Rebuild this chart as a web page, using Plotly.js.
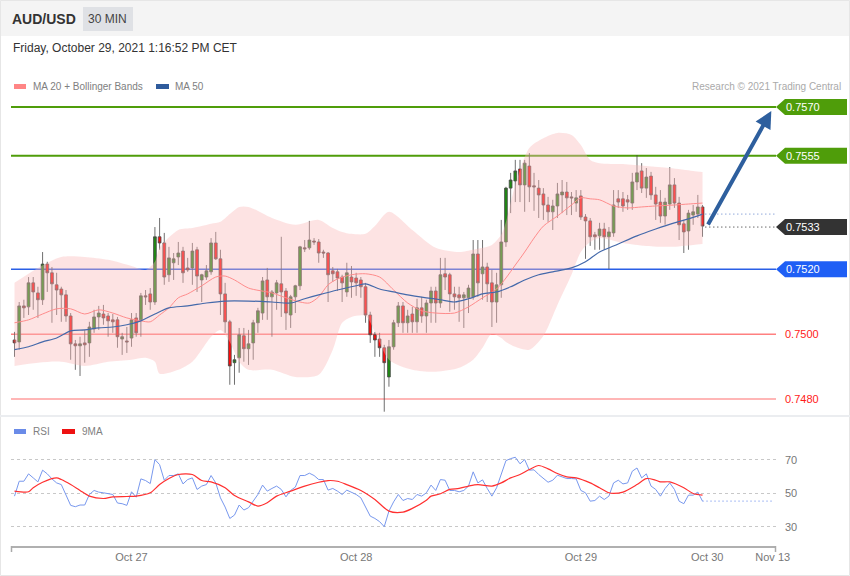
<!DOCTYPE html>
<html><head><meta charset="utf-8">
<script src="https://cdn.plot.ly/plotly-3.0.1.min.js"></script>
<style>html,body{margin:0;padding:0;background:#fff;}#chart{width:850px;height:576px;}</style>
</head><body><div id="chart"></div>
<script>
// ---------- DATA (30-min candles, AUD/USD) ----------
const open = [0.74982,0.74976,0.75087,0.75084,0.75158,0.75127,0.75106,0.75216,0.75189,0.75152,
0.75139,0.75121,0.75056,0.74970,0.74964,0.74973,0.74973,0.75016,0.75053,0.75062,
0.75056,0.75044,0.75044,0.74985,0.74979,0.74988,0.75050,0.75044,0.75118,0.75124,
0.75099,0.75300,0.75281,0.75183,0.75220,0.75238,0.75256,0.75204,0.75204,0.75260,
0.75167,0.75176,0.75192,0.75281,0.75232,0.75124,0.75038,0.74912,0.74927,0.74995,
0.74955,0.74973,0.75035,0.75065,0.75167,0.75115,0.75127,0.75155,0.75133,0.75059,
0.75115,0.75149,0.75266,0.75266,0.75287,0.75284,0.75253,0.75250,0.75195,0.75192,
0.75176,0.75130,0.75176,0.75173,0.75167,0.75146,0.75059,0.74998,0.74985,0.74958,
0.74868,0.74961,0.75035,0.75087,0.75035,0.75062,0.75038,0.75081,0.75056,0.75096,
0.75133,0.75096,0.75186,0.75183,0.75124,0.75121,0.75112,0.75112,0.75115,0.75247,
0.75186,0.75207,0.75158,0.75099,0.75152,0.75284,0.75450,0.75472,0.75509,0.75460,
0.75518,0.75457,0.75450,0.75432,0.75398,0.75377,0.75395,0.75429,0.75438,0.75423,
0.75404,0.75426,0.75361,0.75349,0.75306,0.75303,0.75324,0.75300,0.75312,0.75417,
0.75417,0.75414,0.75404,0.75469,0.75503,0.75450,0.75487,0.75429,0.75407,0.75364,
0.75401,0.75460,0.75404,0.75340,0.75318,0.75367,0.75370,0.75392];
const high = [0.75007,0.75099,0.75106,0.75176,0.75176,0.75146,0.75253,0.75223,0.75207,0.75189,
0.75146,0.75136,0.75065,0.74982,0.74992,0.75013,0.75038,0.75075,0.75087,0.75090,
0.75065,0.75062,0.75053,0.75004,0.75022,0.75065,0.75065,0.75127,0.75136,0.75142,
0.75330,0.75358,0.75312,0.75269,0.75250,0.75284,0.75269,0.75235,0.75281,0.75269,
0.75186,0.75213,0.75296,0.75315,0.75260,0.75158,0.75044,0.74936,0.75019,0.75019,
0.75013,0.75044,0.75081,0.75176,0.75204,0.75136,0.75167,0.75300,0.75142,0.75121,
0.75152,0.75272,0.75290,0.75349,0.75296,0.75293,0.75260,0.75253,0.75207,0.75201,
0.75183,0.75220,0.75210,0.75189,0.75176,0.75158,0.75069,0.75007,0.75004,0.74967,
0.74982,0.75044,0.75099,0.75099,0.75075,0.75084,0.75109,0.75115,0.75106,0.75146,
0.75146,0.75235,0.75235,0.75189,0.75146,0.75146,0.75130,0.75152,0.75290,0.75290,
0.75290,0.75220,0.75198,0.75189,0.75352,0.75454,0.75497,0.75537,0.75537,0.75537,
0.75558,0.75497,0.75475,0.75450,0.75423,0.75414,0.75466,0.75475,0.75469,0.75438,
0.75444,0.75444,0.75370,0.75358,0.75315,0.75343,0.75343,0.75330,0.75444,0.75444,
0.75438,0.75429,0.75497,0.75552,0.75527,0.75512,0.75500,0.75454,0.75444,0.75420,
0.75515,0.75481,0.75423,0.75352,0.75383,0.75398,0.75429,0.75398];
const low = [0.74930,0.74952,0.75050,0.75059,0.75075,0.75050,0.75090,0.75130,0.75035,0.75059,
0.75038,0.75038,0.74921,0.74890,0.74871,0.74912,0.74930,0.75004,0.75013,0.75029,
0.74992,0.75004,0.74958,0.74936,0.74942,0.74961,0.74992,0.74992,0.75090,0.75075,
0.75090,0.75260,0.75152,0.75161,0.75167,0.75213,0.75158,0.75192,0.75152,0.75130,
0.75099,0.75167,0.75183,0.75229,0.75059,0.75004,0.74844,0.74844,0.74881,0.74915,
0.74905,0.74921,0.75004,0.75044,0.75044,0.74992,0.75075,0.75053,0.75013,0.75019,
0.75065,0.75136,0.75253,0.75260,0.75275,0.75220,0.75235,0.75099,0.75161,0.75133,
0.75099,0.75115,0.75112,0.75118,0.75112,0.75035,0.74973,0.74930,0.74930,0.74761,
0.74838,0.74952,0.75022,0.75004,0.75004,0.75004,0.75004,0.75035,0.75004,0.75035,
0.75035,0.75081,0.75136,0.75069,0.75075,0.75038,0.75019,0.75065,0.75106,0.75115,
0.75106,0.75099,0.75022,0.75035,0.75112,0.75269,0.75373,0.75407,0.75407,0.75377,
0.75407,0.75380,0.75358,0.75352,0.75346,0.75321,0.75358,0.75373,0.75367,0.75367,
0.75377,0.75352,0.75232,0.75272,0.75260,0.75260,0.75260,0.75201,0.75300,0.75389,
0.75377,0.75383,0.75383,0.75444,0.75435,0.75420,0.75414,0.75352,0.75343,0.75337,
0.75383,0.75389,0.75290,0.75250,0.75260,0.75337,0.75358,0.75300];
const close = [0.74973,0.75087,0.75081,0.75158,0.75130,0.75106,0.75216,0.75189,0.75155,0.75136,
0.75121,0.75056,0.74970,0.74964,0.74970,0.74967,0.75022,0.75053,0.75065,0.75050,
0.75041,0.75038,0.74992,0.74992,0.74976,0.75044,0.75004,0.75118,0.75115,0.75099,
0.75300,0.75281,0.75176,0.75235,0.75232,0.75250,0.75189,0.75198,0.75256,0.75179,
0.75183,0.75195,0.75281,0.75232,0.75124,0.75038,0.74902,0.74921,0.74998,0.74955,
0.74970,0.75035,0.75072,0.75164,0.75115,0.75130,0.75158,0.75130,0.75065,0.75115,
0.75149,0.75269,0.75263,0.75290,0.75284,0.75250,0.75250,0.75183,0.75186,0.75173,
0.75158,0.75189,0.75161,0.75158,0.75146,0.75059,0.74998,0.74982,0.74958,0.74912,
0.74961,0.75035,0.75087,0.75035,0.75056,0.75038,0.75081,0.75056,0.75096,0.75133,
0.75096,0.75183,0.75176,0.75124,0.75115,0.75112,0.75121,0.75142,0.75247,0.75158,
0.75207,0.75155,0.75099,0.75152,0.75284,0.75450,0.75475,0.75503,0.75460,0.75527,
0.75454,0.75454,0.75429,0.75398,0.75377,0.75395,0.75432,0.75438,0.75420,0.75420,
0.75420,0.75361,0.75349,0.75300,0.75300,0.75324,0.75300,0.75315,0.75398,0.75407,
0.75395,0.75407,0.75469,0.75497,0.75450,0.75484,0.75429,0.75401,0.75364,0.75407,
0.75460,0.75404,0.75337,0.75315,0.75373,0.75377,0.75392,0.75333];

// Moving averages (sampled at candle indices)
const ma20Idx = [0,3,6,9,12,15,18,21,24,27,29,31,33,35,37,40,43,45,47,50,55,58,61,63,65,67,69,72,75,78,81,84,87,90,94,97,100,103,105,107,109,111,113,116,119,121,123,125,128,131,134,137,141,144,147];
const ma20Val = [0.75035,0.75044,0.75062,0.75078,0.75078,0.75062,0.75075,0.75065,0.75050,0.75041,0.75038,0.75059,0.75081,0.75112,0.75124,0.75149,0.75176,0.75179,0.75167,0.75142,0.75127,0.75112,0.75099,0.75096,0.75115,0.75152,0.75170,0.75183,0.75186,0.75176,0.75136,0.75096,0.75072,0.75065,0.75065,0.75084,0.75112,0.75139,0.75173,0.75213,0.75253,0.75296,0.75333,0.75364,0.75398,0.75420,0.75417,0.75414,0.75395,0.75389,0.75392,0.75395,0.75398,0.75401,0.75404];
const ma50Idx = [0,3,6,9,12,15,18,21,24,27,30,33,37,41,45,50,55,59,62,65,69,73,75,78,81,84,88,91,94,97,100,103,106,109,112,115,119,122,125,129,133,137,141,144,147];
const ma50Val = [0.74952,0.74961,0.74976,0.74988,0.75010,0.75013,0.75019,0.75022,0.75029,0.75041,0.75062,0.75081,0.75087,0.75096,0.75102,0.75102,0.75099,0.75096,0.75109,0.75121,0.75136,0.75149,0.75155,0.75139,0.75130,0.75121,0.75112,0.75106,0.75099,0.75109,0.75124,0.75130,0.75146,0.75167,0.75183,0.75192,0.75204,0.75223,0.75253,0.75278,0.75303,0.75324,0.75343,0.75355,0.75370];
// Bollinger bands
const bbIdx = [0,5,10,15,20,25,28,30,31,35,38,40,42,44,46,48,50,55,60,65,68,70,72,75,77,80,85,90,95,98,100,102,104,105,107,110,113,116,119,121,123,125,130,135,140,145,147];
const bbUpper = [0.75158,0.75204,0.75238,0.75238,0.75229,0.75210,0.75198,0.75223,0.75266,0.75321,0.75327,0.75333,0.75340,0.75346,0.75370,0.75392,0.75392,0.75358,0.75337,0.75352,0.75327,0.75315,0.75309,0.75309,0.75333,0.75377,0.75321,0.75266,0.75253,0.75260,0.75266,0.75275,0.75306,0.75346,0.75460,0.75574,0.75604,0.75620,0.75614,0.75583,0.75537,0.75527,0.75524,0.75518,0.75512,0.75503,0.75500];
const bbLower = [0.74902,0.74912,0.74915,0.74902,0.74915,0.74921,0.74927,0.74915,0.74878,0.74890,0.74915,0.74952,0.74992,0.75013,0.74976,0.74915,0.74890,0.74890,0.74868,0.74875,0.74952,0.75035,0.75053,0.75056,0.75007,0.74921,0.74890,0.74884,0.74896,0.74921,0.74958,0.75001,0.74988,0.74976,0.74961,0.74952,0.74995,0.75090,0.75183,0.75253,0.75284,0.75296,0.75281,0.75272,0.75269,0.75275,0.75278];

// RSI (one value per candle) and its 9-period MA
const rsiVal = [48.4,57.3,57.3,61.7,59.3,56.9,63.9,61.7,58.7,56.3,
55.3,49.4,42.9,42.1,43.1,43.1,49.4,51.8,50.8,50.4,
50.0,49.4,44.3,43.9,42.9,51.0,47.8,58.7,57.7,55.9,
70.2,67.2,57.9,60.7,60.7,61.7,55.7,58.3,59.3,52.4,
54.4,55.3,60.7,56.3,47.4,41.9,35.1,37.1,43.1,40.1,
41.5,45.8,49.4,55.0,51.4,53.0,54.4,52.4,48.0,51.8,
53.8,60.7,60.7,62.1,60.7,58.3,58.3,52.0,53.0,51.4,
49.4,52.0,50.8,49.4,47.4,41.5,36.5,35.1,33.2,30.2,
39.5,45.0,49.4,45.8,47.0,46.4,49.4,48.4,50.4,
55.0,51.8,58.3,57.9,51.8,51.8,51.0,51.8,54.4,62.9,
56.3,58.1,53.0,48.4,53.4,61.3,69.6,70.8,71.6,67.7,
70.2,63.9,64.1,61.3,58.7,56.7,57.9,60.9,59.9,58.9,
58.9,58.7,51.8,50.4,45.4,45.8,48.4,46.4,48.4,56.3,
57.9,55.7,56.3,63.3,65.2,59.3,61.7,54.4,52.4,48.4,
53.0,56.3,52.4,45.4,43.9,49.0,49.0,50.8,45.4];
const ma9Idx = [0,3,4,6,9,10,12,14,16,19,21,24,26,29,31,33,35,38,40,42,45,47,50,52,54,56,59,62,65,67,69,71,74,77,80,83,85,88,89,91,93,95,97,99,102,104,106,108,110,112,114,116,118,120,123,125,127,128,130,133,135,137,138,140,143,145,147];
const ma9Val = [51.4,51.0,53.4,56.7,59.3,58.3,55.3,51.8,48.4,47.0,48.0,48.2,48.4,50.4,55.3,58.9,61.3,61.3,57.7,56.9,53.4,48.8,45.0,42.5,44.5,48.4,51.4,54.4,56.7,57.7,57.3,55.3,51.8,46.4,39.5,38.9,41.1,46.0,48.4,49.8,52.4,53.0,54.4,55.3,54.4,56.3,59.3,61.3,64.3,66.7,64.7,61.9,59.9,59.3,56.3,53.4,50.4,50.0,50.8,55.3,58.9,57.9,56.9,56.9,53.4,50.0,49.0];

// Key levels, projection and axis labels
const levels = [0.7570, 0.7555, 0.7533, 0.7520, 0.7500, 0.7480];
const levelLabels = ['0.7570','0.7555','0.7533','0.7520','0.7500','0.7480'];
const targetIdx = 161.7, targetPrice = 0.75688;
const tickIdx = [25, 73, 121, 148, 162];
const tickLabels = ['Oct 27','Oct 28','Oct 29','Oct 30','Nov 13'];
const rsiTicks = [30, 50, 70];

// ---------- LAYOUT GEOMETRY ----------
const W = 850, H = 576;
const px = v => v / W, py = v => 1 - v / H;
const plotL = 11, plotR = 776, priceTop = 95, priceBot = 412, rsiTop = 440, rsiBot = 546;
const xRange = [-0.75, 162.7];
const priceRange = [0.74760, 0.75737];
const rsiRange = [18.66, 81.9];
const unitPerPx = (priceRange[1] - priceRange[0]) / (priceBot - priceTop);
const FONT = 'Liberation Sans, Arial, sans-serif';

const idx = open.map((_, i) => i);
const last = idx.length - 1;

const levelStyle = [
  {line:'#4f9d0a', w:2, box:'#4f9d0a'},
  {line:'#4f9d0a', w:2, box:'#4f9d0a'},
  {line:null, w:0, box:'#333333'},
  {line:'#2a5fe6', w:1.5, box:'#1f5ff5'},
  {line:'#ff8080', w:1.5, box:null, text:'#ff1a1a'},
  {line:'#ffb6b6', w:2, box:null, text:'#ff1a1a'}
];

const traces = [
  {x: bbIdx, y: bbUpper, type:'scatter', mode:'lines', line:{width:0, shape:'spline', smoothing:0.8}, hoverinfo:'skip', xaxis:'x', yaxis:'y'},
  {x: bbIdx, y: bbLower, type:'scatter', mode:'lines', fill:'tonexty', fillcolor:'rgba(250,185,185,0.40)', line:{width:0, shape:'spline', smoothing:0.8}, hoverinfo:'skip', xaxis:'x', yaxis:'y'},
  {x: ma20Idx, y: ma20Val, type:'scatter', mode:'lines', line:{color:'#ff8c8c', width:1, shape:'spline', smoothing:0.8}, hoverinfo:'skip', xaxis:'x', yaxis:'y'},
  {x: ma50Idx, y: ma50Val, type:'scatter', mode:'lines', line:{color:'#4469aa', width:1.2, shape:'spline', smoothing:0.8}, hoverinfo:'skip', xaxis:'x', yaxis:'y'},
  {x: idx, open: open, high: high, low: low, close: close, type:'candlestick', xaxis:'x', yaxis:'y',
   increasing:{line:{color:'#4a4a4a', width:0.8}, fillcolor:'#1f8a12'},
   decreasing:{line:{color:'#4a4a4a', width:0.8}, fillcolor:'#ff0a0a'},
   whiskerwidth:0, hoverinfo:'skip'},
  {x: idx, y: rsiVal, type:'scatter', mode:'lines', line:{color:'#7898ee', width:1}, hoverinfo:'skip', xaxis:'x2', yaxis:'y2'},
  {x: ma9Idx, y: ma9Val, type:'scatter', mode:'lines', line:{color:'#ff3030', width:1.2, shape:'spline', smoothing:0.8}, hoverinfo:'skip', xaxis:'x2', yaxis:'y2'},
  {x: [last, xRange[1] - 0.8], y: [rsiVal[last], rsiVal[last]], type:'scatter', mode:'lines', line:{color:'#7898ee', width:1.2, dash:'1px,3px'}, hoverinfo:'skip', xaxis:'x2', yaxis:'y2'}
];

const shapes = [];
const ann = [];
// header
shapes.push({type:'rect', xref:'paper', yref:'paper', x0:0, x1:1, y0:py(36), y1:1, fillcolor:'#f4f4f4', line:{width:0}, layer:'below'});
shapes.push({type:'rect', xref:'paper', yref:'paper', x0:px(83), x1:px(133), y0:py(31), y1:py(7), fillcolor:'#dfe1e5', line:{width:0}, layer:'below'});
shapes.push({type:'rect', xref:'paper', yref:'paper', x0:px(0.5), x1:px(849.5), y0:py(575.5), y1:py(0.5), line:{color:'#e6e6e6', width:1}, layer:'below'});
shapes.push({type:'line', xref:'paper', yref:'paper', x0:0, x1:1, y0:py(416), y1:py(416), line:{color:'#ebedf0', width:2}, layer:'below'});
// legend swatches
shapes.push({type:'rect', xref:'paper', yref:'paper', x0:px(14), x1:px(26), y0:py(89), y1:py(84), fillcolor:'#ff8585', line:{width:0}});
shapes.push({type:'rect', xref:'paper', yref:'paper', x0:px(156), x1:px(169), y0:py(89), y1:py(84), fillcolor:'#2f5b9c', line:{width:0}});
shapes.push({type:'rect', xref:'paper', yref:'paper', x0:px(14), x1:px(26), y0:py(434), y1:py(429), fillcolor:'#6a8be8', line:{width:0}});
shapes.push({type:'rect', xref:'paper', yref:'paper', x0:px(62), x1:px(75), y0:py(434), y1:py(429), fillcolor:'#ee1111', line:{width:0}});
// axis end ticks
shapes.push({type:'line', xref:'paper', yref:'paper', x0:px(plotL+0.5), x1:px(plotL+0.5), y0:py(546), y1:py(552), line:{color:'#aaaaaa', width:1.5}});
shapes.push({type:'line', xref:'paper', yref:'paper', x0:px(plotR-0.5), x1:px(plotR-0.5), y0:py(546), y1:py(552), line:{color:'#aaaaaa', width:1.5}});

// key levels
const hh = 8 * unitPerPx;
levels.forEach((L, k) => {
  const s = levelStyle[k];
  if (s.line) {
    shapes.push({type:'line', xref:'paper', yref:'y', x0:px(plotL), x1:px(plotR), y0:L, y1:L, line:{color:s.line, width:s.w}, layer:'below'});
  } else {
    shapes.push({type:'line', xref:'x', yref:'y', x0:last + 0.6, x1:xRange[1], y0:L, y1:L, line:{color:'#222', width:1, dash:'1px,3px'}});
  }
  if (s.box) {
    const xt = px(776), xl = px(785), xr = px(847);
    shapes.push({type:'path', xref:'paper', yref:'y',
      path:`M ${xt},${L} L ${xl},${L+hh} L ${xr},${L+hh} L ${xr},${L-hh} L ${xl},${L-hh} Z`,
      fillcolor:s.box, line:{width:0}});
    ann.push({xref:'paper', yref:'y', x:px(784), y:L, text:levelLabels[k], showarrow:false, xanchor:'left', yanchor:'middle', font:{family:FONT, size:11, color:'#ffffff'}});
  } else {
    ann.push({xref:'paper', yref:'y', x:px(783), y:L, text:levelLabels[k], showarrow:false, xanchor:'left', yanchor:'middle', font:{family:FONT, size:11, color:s.text}});
  }
});
// MA50 projection (dotted)
const ma50Last = ma50Val[ma50Val.length - 1];
shapes.push({type:'line', xref:'x', yref:'y', x0:last + 0.6, x1:xRange[1], y0:ma50Last, y1:ma50Last, line:{color:'#5a7fc8', width:1, dash:'1px,3px'}});

// arrow
ann.push({xref:'x', yref:'y', x:targetIdx, y:targetPrice, axref:'x', ayref:'y', ax:last + 1.0, ay:close[last],
  showarrow:true, arrowhead:2, arrowsize:0.85, arrowwidth:4, arrowcolor:'#2e5f9e', text:'', standoff:0, startstandoff:0});

// texts
const txt = (x, y, t, size, color, extra) => Object.assign({xref:'paper', yref:'paper', x:px(x), y:py(y), text:t, showarrow:false, xanchor:'left', yanchor:'middle', font:{family:FONT, size:size, color:color}}, extra || {});
ann.push(txt(10, 19, '<b>AUD/USD</b>', 14, '#333333'));
ann.push(txt(108, 19, '30 MIN', 12, '#444444', {xanchor:'center'}));
ann.push(txt(11, 48, 'Friday, October 29, 2021 1:16:52 PM CET', 12, '#333333'));
ann.push(txt(31, 86, 'MA 20 + Bollinger Bands', 10, '#808080'));
ann.push(txt(173, 86, 'MA 50', 10, '#808080'));
ann.push(txt(843, 86, 'Research © 2021 Trading Central', 10, '#aaaaaa', {xanchor:'right'}));
ann.push(txt(31, 431, 'RSI', 10, '#808080'));
ann.push(txt(80, 431, '9MA', 10, '#808080'));

const layout = {
  width: W, height: H, autosize:false,
  margin:{l:0, r:0, t:0, b:0, pad:0},
  paper_bgcolor:'#ffffff', plot_bgcolor:'rgba(0,0,0,0)',
  showlegend:false, boxgap:0.15,
  font:{family:FONT, size:11, color:'#777'},
  xaxis:{domain:[px(plotL), px(plotR)], range:xRange, anchor:'y', showgrid:false, zeroline:false, showticklabels:false, showline:false, ticks:'', rangeslider:{visible:false}, fixedrange:true},
  yaxis:{domain:[py(priceBot), py(priceTop)], range:priceRange, anchor:'x', showgrid:false, zeroline:false, showticklabels:false, showline:false, ticks:'', fixedrange:true},
  xaxis2:{domain:[px(plotL), px(plotR)], range:xRange, anchor:'y2', matches:'x', showgrid:false, zeroline:false,
    tickmode:'array', tickvals:tickIdx, ticktext:tickLabels, ticks:'', showline:true, linecolor:'#b0b0b0', linewidth:2,
    tickfont:{family:FONT, size:11, color:'#777777'}, rangeslider:{visible:false}, fixedrange:true},
  yaxis2:{domain:[py(rsiBot), py(rsiTop)], range:rsiRange, anchor:'x2', side:'right', tickmode:'array', tickvals:rsiTicks,
    showgrid:true, gridcolor:'#c8c8c8', griddash:'dot', gridwidth:1, zeroline:false, showline:false, ticks:'', ticklabelstandoff:8,
    tickfont:{family:FONT, size:11, color:'#777777'}, fixedrange:true},
  shapes: shapes,
  annotations: ann
};

Plotly.newPlot('chart', traces, layout, {displayModeBar:false, staticPlot:true});
</script>
</body></html>
